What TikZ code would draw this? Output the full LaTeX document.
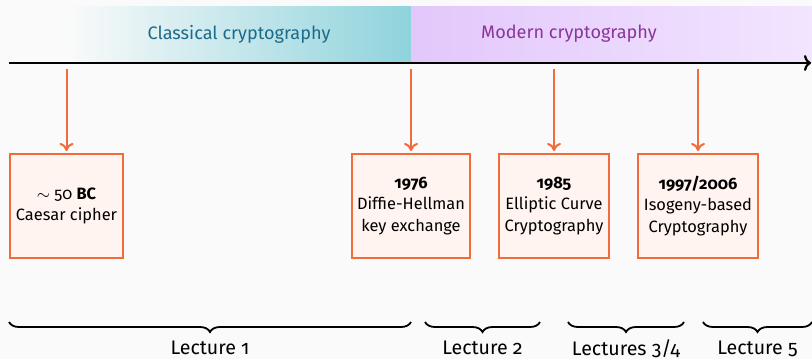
\documentclass[tikz,border=0pt]{standalone}
\usepackage{fontspec}
\setmainfont{Fira Sans}[Numbers=OldStyle]
\usetikzlibrary{decorations.pathreplacing,arrows.meta}
\definecolor{bgcol}{HTML}{FAFAFA}
\definecolor{accent}{HTML}{F26B3A}
\definecolor{boxfill}{HTML}{FFF4EF}
\definecolor{tealend}{HTML}{8FD3DC}
\definecolor{tealtext}{HTML}{1B6A89}
\definecolor{purpstart}{HTML}{E3C7FB}
\definecolor{purpend}{HTML}{F2E5FF}
\definecolor{purptext}{HTML}{8A3599}
\tikzset{
  eventbox/.style={draw=accent, line width=1pt, fill=boxfill, align=center,
    minimum height=52pt, inner sep=2pt, font=\fontsize{8.2}{10.75}\selectfont},
  pointer/.style={draw=accent, line width=1pt, -{To[length=4pt,width=7pt]}},
  lecbrace/.style={decorate, decoration={brace, mirror, amplitude=5pt}, line width=0.9pt},
  leclabel/.style={anchor=north, inner sep=1pt, font=\fontsize{9.8}{11}\selectfont},
  eralabel/.style={font=\fontsize{9.05}{10}\selectfont}
}
\begin{document}
\begin{tikzpicture}[x=0.5pt, y=-0.5pt]
  % page and background
  \useasboundingbox (0,0) rectangle (812,359);
  \fill[bgcol] (0,0) rectangle (812,359);

  % era bands
  \shade[left color=bgcol, right color=tealend] (68,6) rectangle (411,62);
  \shade[left color=purpstart, right color=purpend] (411,6) rectangle (812,62);
  \node[eralabel, text=tealtext] (classical) at (239,34) {Classical cryptography};
  \node[eralabel, text=purptext] (modern) at (569,34) {Modern cryptography};

  % time axis
  \coordinate (axstart) at (9,63);
  \coordinate (axend) at (811,63);
  \draw[line width=1.1pt, -{To[length=3.5pt,width=8pt]}] (axstart) -- (axend);

  % events
  \node[eventbox, minimum width=56.5pt] (caesar) at (66.5,206)
    {$\sim$ 50 \textbf{BC}\\Caesar cipher};
  \node[eventbox, minimum width=59pt] (dh) at (411,206)
    {\textbf{1976}\\Diffie-Hellman\\key exchange};
  \node[eventbox, minimum width=55pt] (ecc) at (554,206)
    {\textbf{1985}\\Elliptic Curve\\Cryptography};
  \node[eventbox, minimum width=60pt] (iso) at (698,206)
    {\textbf{1997/2006}\\Isogeny-based\\Cryptography};

  % pointers from the axis to each event
  \foreach \ev in {caesar,dh,ecc,iso}{
    \coordinate (top-\ev) at ([yshift=-3pt]\ev.north |- axstart);
    \draw[pointer] (top-\ev) -- ([yshift=1pt]\ev.north);
  }

  % lecture braces
  \coordinate (l1a) at (9,322);   \coordinate (l1b) at (411,322);
  \coordinate (l2a) at (425,322); \coordinate (l2b) at (540,322);
  \coordinate (l3a) at (568,322); \coordinate (l3b) at (684,322);
  \coordinate (l5a) at (703,322); \coordinate (l5b) at (812,322);
  \draw[lecbrace] (l1a) -- (l1b) node[leclabel, midway, below=8pt] (lec1) {Lecture 1};
  \draw[lecbrace] (l2a) -- (l2b) node[leclabel, midway, below=8pt] (lec2) {Lecture 2};
  \draw[lecbrace] (l3a) -- (l3b) node[leclabel, midway, below=7.5pt] (lec3) {Lectures 3/4};
  \draw[lecbrace] (l5a) -- (l5b) node[leclabel, midway, below=8pt] (lec5) {Lecture 5};
\end{tikzpicture}
\end{document}
